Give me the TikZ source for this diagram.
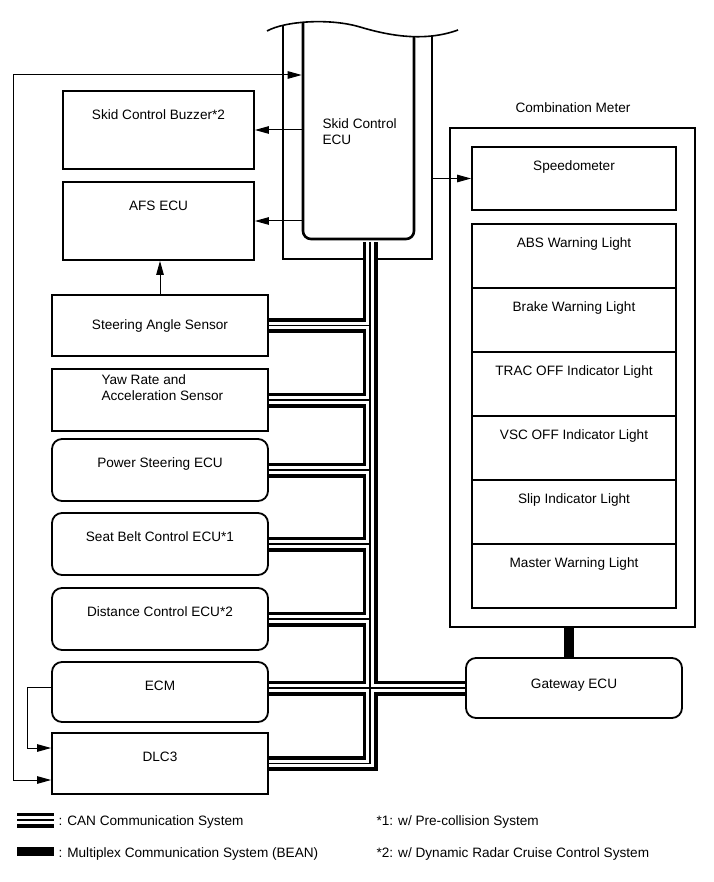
\documentclass[tikz,border=0pt]{standalone}
\usepackage{fontspec}
\setmainfont{Liberation Sans}
\usetikzlibrary{arrows.meta}

\begin{document}
\begin{tikzpicture}[
				x=1pt, y=-1pt,
				font=\fontsize{13.6}{16}\selectfont,
				unit/.style={rectangle, draw, line width=1.8pt, minimum width=216pt, minimum height=62pt, inner sep=0pt},
				runit/.style={unit, rounded corners=10pt},
				smallunit/.style={unit, minimum width=191pt, minimum height=78pt},
				lamp/.style={unit, minimum width=204pt, minimum height=64pt},
				headline/.style={label={[anchor=base, yshift=-29pt]north:#1}},
				lamphead/.style={label={[anchor=base, yshift=-24pt]north:#1}},
				sig/.style={line width=1pt, -{Triangle[length=14pt, width=7.5pt]}},
				bothsig/.style={line width=1pt, {Triangle[length=14pt, width=7.5pt]}-{Triangle[length=14pt, width=7.5pt]}},
				can/.style={line width=1.3pt, preaction={draw, line width=15pt}, preaction={draw, white, line width=7.5pt}},
				bean/.style={line width=10pt}
				]
				\useasboundingbox (0,0) rectangle (713,882);
				\begin{scope}
					\clip (267,31) .. controls (285,21) and (330,18) .. (360,27) .. controls (390,36) and (425,42) .. (458,30) -- (458,300) -- (267,300) -- cycle;
					\node[rectangle, draw, line width=1.8pt, minimum width=149pt, minimum height=249pt] (frame) at (357.5,134.5) {};
					\node[rectangle, draw, line width=2.6pt, rounded corners=8pt, minimum width=111pt, minimum height=229pt] (ecu) at (358.5,124.5) {};
				\end{scope}
				\draw[line width=1.6pt] (267,31) .. controls (285,21) and (330,18) .. (360,27) .. controls (390,36) and (425,42) .. (458,30);
				\node[anchor=base west, align=left] (ecutext) at (319,145) {Skid Control\\ECU};
				\node[smallunit, headline=Skid Control Buzzer*2] (buzzer) at (158.5,130) {};
				\node[smallunit, headline=AFS ECU] (afs) at (158.5,221) {};
				\node[unit, minimum height=61pt] (steer) at (160,325.5) {Steering Angle Sensor};
				\node[unit] (yaw) at (160,400) {};
				\node[anchor=base west, align=left] (yawtext) at (98,400) {Yaw Rate and\\Acceleration Sensor};
				\node[runit, headline=Power Steering ECU] (ps) at (160,470) {};
				\node[runit, headline=Seat Belt Control ECU*1] (seat) at (160,544) {};
				\node[runit, headline=Distance Control ECU*2] (dist) at (160,619) {};
				\node[runit, minimum height=60pt, headline=ECM] (ecm) at (160,692) {};
				\node[unit, minimum height=61pt, headline=DLC3] (dlc) at (160,763.5) {};

				\node[anchor=base] (metertext) at (573,113) {Combination Meter};
				\node[rectangle, draw, line width=1.8pt, minimum width=245pt, minimum height=499pt] (meter) at (572.5,377.5) {};
				\node[lamp, minimum height=63pt, lamphead=Speedometer] (speedo) at (574,178.5) {};
				\foreach \name/\txt [count=\i] in {abs/ABS Warning Light, brake/Brake Warning Light, trac/TRAC OFF Indicator Light, vsc/VSC OFF Indicator Light, slip/Slip Indicator Light, master/Master Warning Light}
					\node[lamp, lamphead=\txt] (\name) at (574,{224+64*(\i-0.5)}) {};
				\node[runit, minimum height=60pt, label={[anchor=base, yshift=-31pt]north:Gateway ECU}] (gw) at (574,688) {};

				\draw[bothsig] (dlc.west |- 0,780) -| (13,75) -- (ecu.west |- 0,75);
				\draw[sig] (ecu.west |- buzzer.east) -- (buzzer.east);
				\draw[sig] (ecu.west |- afs.east) -- (afs.east);
				\draw[sig] (steer.north) -- (steer.north |- afs.south);
				\draw[sig] (frame.east |- speedo.west) -- (speedo.west);
				\draw[sig] (ecm.west |- 0,687) -- (27,687) |- (dlc.west |- 0,748);

				\draw[can] (ecu.south -| 370,0) ++(0,1.5) |- (dlc.east)
					(steer.east) -- (steer.east -| 370,0)
					(yaw.east) -- (yaw.east -| 370,0)
					(ps.east) -- (ps.east -| 370,0)
					(seat.east) -- (seat.east -| 370,0)
					(dist.east) -- (dist.east -| 370,0)
					(ecm.east |- gw.west) -- (gw.west);
				\draw[bean] (meter.south -| 569,0) -- (gw.north -| 569,0);

				\draw[can] (17,820) -- (54,820);
				\draw[line width=9pt] (17,851) -- (54,851);
				\node[anchor=base west] (canlbl) at (55,825) {: CAN Communication System};
				\node[anchor=base west] (beanlbl) at (55,857) {: Multiplex Communication System (BEAN)};
				\node[anchor=base west] (note1) at (373,825) {*1: w/ Pre-collision System};
				\node[anchor=base west] (note2) at (373,857) {*2: w/ Dynamic Radar Cruise Control System};
			\end{tikzpicture}
\end{document}
